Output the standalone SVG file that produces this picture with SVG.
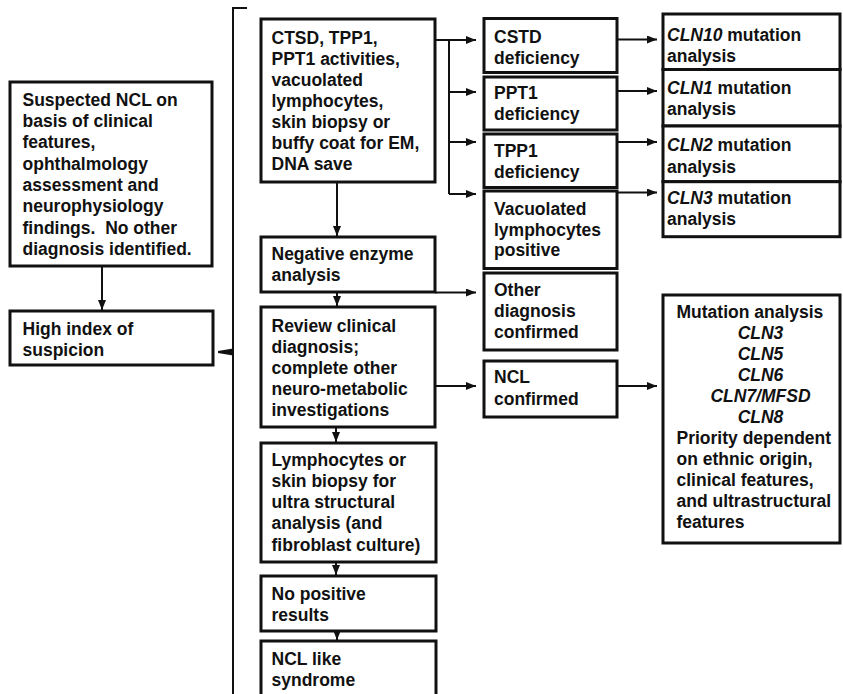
<svg xmlns="http://www.w3.org/2000/svg" width="843" height="694" viewBox="0 0 843 694">
<defs>
<style>
.box{fill:#fff;stroke:#111;stroke-width:3}
.t{font-family:"Liberation Sans",Arial,Helvetica,sans-serif;font-weight:bold;font-size:17.5px;fill:#111;white-space:pre}
.i{font-style:italic}
.c{text-anchor:middle}
.ln{fill:none;stroke:#111;stroke-width:2}
.br{fill:none;stroke:#111;stroke-width:2}
</style>
<marker id="ah" markerUnits="userSpaceOnUse" markerWidth="10" markerHeight="8" refX="10" refY="4" orient="auto">
<path d="M0,0 L10,4 L0,8 Z" fill="#111"/>
</marker>
</defs>
<rect width="843" height="694" fill="#fff"/>

<g id="connectors">
<line class="ln" x1="102" y1="266" x2="102" y2="310" marker-end="url(#ah)"/>
<path class="br" d="M247,8 H233 V700"/>
<path d="M218,351 L233,348.5 L233,355.5 L218,353 Z" fill="#111"/>
<line class="ln" x1="435" y1="40" x2="476" y2="40" marker-end="url(#ah)"/>
<line class="ln" x1="449" y1="40" x2="449" y2="194"/>
<line class="ln" x1="449" y1="92" x2="476" y2="92" marker-end="url(#ah)"/>
<line class="ln" x1="449" y1="142" x2="476" y2="142" marker-end="url(#ah)"/>
<line class="ln" x1="449" y1="194" x2="476" y2="194" marker-end="url(#ah)"/>
<line class="ln" x1="337" y1="182" x2="337" y2="236" marker-end="url(#ah)"/>
<line class="ln" x1="337" y1="292" x2="337" y2="306" marker-end="url(#ah)"/>
<line class="ln" x1="435" y1="292.5" x2="476" y2="292.5" marker-end="url(#ah)"/>
<line class="ln" x1="435" y1="386" x2="476" y2="386" marker-end="url(#ah)"/>
<line class="ln" x1="336" y1="427" x2="336" y2="442" marker-end="url(#ah)"/>
<line class="ln" x1="336" y1="562" x2="336" y2="575" marker-end="url(#ah)"/>
<line class="ln" x1="337" y1="631" x2="337" y2="640" marker-end="url(#ah)"/>
<line class="ln" x1="617" y1="39.5" x2="657" y2="39.5" marker-end="url(#ah)"/>
<line class="ln" x1="617" y1="91" x2="657" y2="91" marker-end="url(#ah)"/>
<line class="ln" x1="617" y1="142" x2="657" y2="142" marker-end="url(#ah)"/>
<line class="ln" x1="617" y1="192.5" x2="657" y2="192.5" marker-end="url(#ah)"/>
<line class="ln" x1="617" y1="386" x2="657" y2="386" marker-end="url(#ah)"/>
</g>

<g id="n1">
<rect class="box" x="10" y="82" width="202" height="184"/>
<text class="t" x="22.5" y="105.7">Suspected NCL on</text>
<text class="t" x="22.5" y="127">basis of clinical</text>
<text class="t" x="22.5" y="148.3">features,</text>
<text class="t" x="22.5" y="169.6">ophthalmology</text>
<text class="t" x="22.5" y="190.9">assessment and</text>
<text class="t" x="22.5" y="212.2">neurophysiology</text>
<text class="t" x="22.5" y="233.5">findings.  No other</text>
<text class="t" x="22.5" y="254.8">diagnosis identified.</text>
</g>
<g id="n2">
<rect class="box" x="10" y="311" width="203" height="54"/>
<text class="t" x="22.5" y="335">High index of</text>
<text class="t" x="22.5" y="356">suspicion</text>
</g>

<g id="n3">
<rect class="box" x="261" y="19" width="174" height="163"/>
<text class="t" x="271.5" y="44">CTSD, TPP1,</text>
<text class="t" x="271.5" y="65">PPT1 activities,</text>
<text class="t" x="271.5" y="86">vacuolated</text>
<text class="t" x="271.5" y="107">lymphocytes,</text>
<text class="t" x="271.5" y="128">skin biopsy or</text>
<text class="t" x="271.5" y="149">buffy coat for EM,</text>
<text class="t" x="271.5" y="170">DNA save</text>
</g>
<g id="n4">
<rect class="box" x="261" y="237" width="174" height="55"/>
<text class="t" x="271.5" y="260">Negative enzyme</text>
<text class="t" x="271.5" y="281">analysis</text>
</g>
<g id="n5">
<rect class="box" x="261" y="307" width="174" height="120"/>
<text class="t" x="271.5" y="332">Review clinical</text>
<text class="t" x="271.5" y="353">diagnosis;</text>
<text class="t" x="271.5" y="374">complete other</text>
<text class="t" x="271.5" y="395">neuro-metabolic</text>
<text class="t" x="271.5" y="416">investigations</text>
</g>
<g id="n6">
<rect class="box" x="261" y="443" width="175" height="119"/>
<text class="t" x="271.5" y="466">Lymphocytes or</text>
<text class="t" x="271.5" y="487">skin biopsy for</text>
<text class="t" x="271.5" y="508">ultra structural</text>
<text class="t" x="271.5" y="529">analysis (and</text>
<text class="t" x="271.5" y="550.5">fibroblast culture)</text>
</g>
<g id="n7">
<rect class="box" x="261" y="576" width="175" height="55"/>
<text class="t" x="271.5" y="599.5">No positive</text>
<text class="t" x="271.5" y="620.5">results</text>
</g>
<g id="n8">
<rect class="box" x="261" y="641" width="175" height="60"/>
<text class="t" x="271.5" y="664.5">NCL like</text>
<text class="t" x="271.5" y="685.5">syndrome</text>
</g>

<g id="n9">
<rect class="box" x="484" y="18.5" width="133" height="54"/>
<text class="t" x="494" y="43">CSTD</text>
<text class="t" x="494" y="64">deficiency</text>
</g>
<g id="n10">
<rect class="box" x="484" y="77" width="133" height="53"/>
<text class="t" x="494" y="99">PPT1</text>
<text class="t" x="494" y="120">deficiency</text>
</g>
<g id="n11">
<rect class="box" x="484" y="134" width="133" height="53.5"/>
<text class="t" x="494" y="156.5">TPP1</text>
<text class="t" x="494" y="177.5">deficiency</text>
</g>
<g id="n12">
<rect class="box" x="484" y="191" width="133" height="77.5"/>
<text class="t" x="494" y="214.5">Vacuolated</text>
<text class="t" x="494" y="235.5">lymphocytes</text>
<text class="t" x="494" y="256">positive</text>
</g>
<g id="n13">
<rect class="box" x="484" y="273" width="133" height="77"/>
<text class="t" x="494" y="296">Other</text>
<text class="t" x="494" y="317">diagnosis</text>
<text class="t" x="494" y="338">confirmed</text>
</g>
<g id="n14">
<rect class="box" x="484" y="361" width="133" height="56"/>
<text class="t" x="494" y="383">NCL</text>
<text class="t" x="494" y="404.5">confirmed</text>
</g>

<g id="n15">
<rect class="box" x="663" y="14" width="177" height="55.5"/>
<text class="t" x="667" y="41"><tspan class="i">CLN10</tspan> mutation</text>
<text class="t" x="667" y="62">analysis</text>
</g>
<g id="n16">
<rect class="box" x="663" y="69.5" width="177" height="56.5"/>
<text class="t" x="667" y="94"><tspan class="i">CLN1</tspan> mutation</text>
<text class="t" x="667" y="115">analysis</text>
</g>
<g id="n17">
<rect class="box" x="663" y="126" width="177" height="55.7"/>
<text class="t" x="667" y="151"><tspan class="i">CLN2</tspan> mutation</text>
<text class="t" x="667" y="172.5">analysis</text>
</g>
<g id="n18">
<rect class="box" x="663" y="181.7" width="177" height="55"/>
<text class="t" x="667" y="204"><tspan class="i">CLN3</tspan> mutation</text>
<text class="t" x="667" y="225">analysis</text>
</g>
<g id="n19">
<rect class="box" x="663" y="295" width="177" height="248"/>
<text class="t" x="676.5" y="318">Mutation analysis</text>
<text class="t i c" x="760.5" y="339">CLN3</text>
<text class="t i c" x="760.5" y="360">CLN5</text>
<text class="t i c" x="760.5" y="381">CLN6</text>
<text class="t i c" x="760.5" y="402">CLN7/MFSD</text>
<text class="t i c" x="760.5" y="423">CLN8</text>
<text class="t" x="676.5" y="444">Priority dependent</text>
<text class="t" x="676.5" y="465">on ethnic origin,</text>
<text class="t" x="676.5" y="486">clinical features,</text>
<text class="t" x="676.5" y="507">and ultrastructural</text>
<text class="t" x="676.5" y="528">features</text>
</g>
</svg>
